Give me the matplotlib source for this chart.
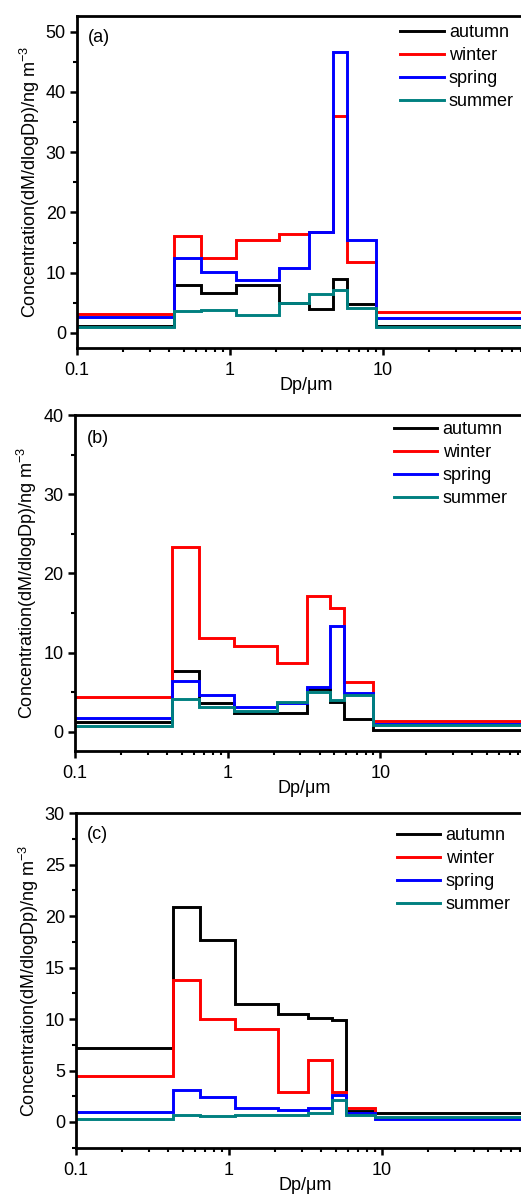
import numpy as np
import matplotlib
matplotlib.use('Agg')
import matplotlib.pyplot as plt
from matplotlib.ticker import MultipleLocator, LogLocator, FixedLocator, NullFormatter

plt.rcParams['font.family'] = ['Liberation Sans', 'DejaVu Sans']
plt.rcParams['mathtext.default'] = 'regular'
plt.rcParams['font.size'] = 13

# size bin edges (um)
edges = [0.1, 0.43, 0.65, 1.1, 2.1, 3.3, 4.7, 5.8, 9.0, 100]

seasons = ['autumn', 'winter', 'spring', 'summer']
colors = ['black', '#ff0000', '#0000ff', '#008080']

# panel (a)
a_autumn = [1.2, 7.9, 6.7, 7.9, 4.9, 4.0, 9.0, 4.75, 1.2]
a_winter = [3.2, 16.1, 12.5, 15.5, 16.4, 16.7, 36.0, 11.8, 3.4]
a_spring = [2.6, 12.5, 10.1, 8.8, 10.7, 16.7, 46.6, 15.5, 2.4]
a_summer = [1.0, 3.7, 3.85, 3.0, 5.0, 6.5, 7.2, 4.2, 1.0]

# panel (b)
b_autumn = [1.25, 7.7, 3.6, 2.45, 2.4, 5.4, 3.8, 1.6, 0.3]
b_winter = [4.4, 23.4, 11.9, 10.9, 8.7, 17.1, 15.6, 6.3, 1.35]
b_spring = [1.8, 6.4, 4.7, 3.1, 3.6, 5.7, 13.4, 4.9, 1.05]
b_summer = [0.8, 4.2, 3.2, 2.7, 3.8, 5.0, 4.0, 4.7, 0.9]

# panel (c)
c_autumn = [7.2, 20.9, 17.7, 11.5, 10.5, 10.1, 9.9, 1.1, 0.9]
c_winter = [4.5, 13.8, 10.0, 9.0, 2.9, 6.0, 2.9, 1.4, 0.4]
c_spring = [1.0, 3.1, 2.4, 1.4, 1.2, 1.35, 2.6, 0.9, 0.25]
c_summer = [0.3, 0.7, 0.55, 0.65, 0.65, 0.85, 2.1, 0.65, 0.45]

W, H = 521, 1195
fig = plt.figure(figsize=(W / 100, H / 100), dpi=100)

panels = [
    # data, label, (left, top, bottom px), ylim, major, minor, legend pos, label pos
    ([a_autumn, a_winter, a_spring, a_summer], '(a)', (77, 16, 348), (-2.5, 52.6), 10, 5, (0.705, 0.976), (0.024, 0.935)),
    ([b_autumn, b_winter, b_spring, b_summer], '(b)', (74.7, 415, 751), (-2.4, 40), 10, 5, (0.696, 0.982), (0.027, 0.93)),
    ([c_autumn, c_winter, c_spring, c_summer], '(c)', (76, 813.3, 1147.7), (-2.5, 30), 5, 2.5, (0.70, 0.958), (0.024, 0.937)),
]

for data, lab, (lpx, tpx, bpx), ylim, maj, mnr, legpos, labpos in panels:
    ax = fig.add_axes([lpx / W, 1 - bpx / H, 458.5 / W, (bpx - tpx) / H])
    for vals, name, c in zip(data, seasons, colors):
        ax.stairs(vals, edges, baseline=None, color=c, lw=2.1, label=name)
    ax.set_xscale('log')
    ax.set_xlim(0.1, 100)
    ax.set_ylim(*ylim)
    ax.yaxis.set_major_locator(MultipleLocator(maj))
    ax.yaxis.set_minor_locator(MultipleLocator(mnr))
    ax.xaxis.set_major_locator(FixedLocator([0.1, 1, 10]))
    ax.xaxis.set_major_formatter(matplotlib.ticker.FuncFormatter(lambda v, p: '%g' % v))
    ax.xaxis.set_minor_locator(LogLocator(base=10, subs=np.arange(2, 10)))
    ax.xaxis.set_minor_formatter(NullFormatter())
    for s in ax.spines.values():
        s.set_linewidth(2.0)
    ax.spines['right'].set_visible(False)
    ax.tick_params(which='major', direction='out', length=5, width=1.8, pad=3, labelsize=13)
    ax.tick_params(axis='x', which='major', pad=5)
    ax.tick_params(which='minor', direction='out', length=3, width=1.5)
    ax.tick_params(top=False, right=False, which='both')
    ax.set_xlabel('Dp/\u03bcm', fontsize=13, labelpad=-1.5)
    ax.set_ylabel('Concentration(dM/dlogDp)/ng m$^{-3}$', fontsize=13, labelpad=3)
    ax.text(labpos[0], labpos[1], lab, transform=ax.transAxes, fontsize=13, va='center', ha='left')
    ax.legend(loc='upper left', bbox_to_anchor=legpos, frameon=False, fontsize=13,
              handlelength=2.4, handletextpad=0.3, labelspacing=0.33,
              borderpad=0, borderaxespad=0)

fig.savefig('out.png', dpi=100)
